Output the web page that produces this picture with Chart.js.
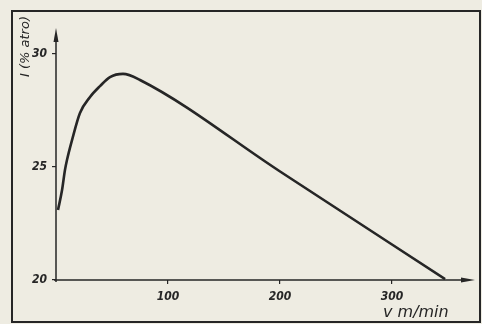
<!DOCTYPE html>
<html>
<head>
<meta charset="utf-8">
<script src="https://cdn.jsdelivr.net/npm/chart.js@4"></script>
<style>
  html, body { margin: 0; padding: 0; background: #eeece2; }
  #wrap { position: relative; width: 482px; height: 324px; }
</style>
</head>
<body>
<div id="wrap"><canvas id="myChart" width="482" height="324"></canvas></div>
<script>
// speed v (m/min) against I (% atro)
const speedValues = [1.8, 5.4, 8.0, 9.8, 14.3, 21.4, 30.4, 39.3, 48.2, 59.8, 75, 200, 347.3];
const yieldValues = [23.1, 23.98, 24.87, 25.31, 26.19, 27.39, 28.1, 28.58, 28.98, 29.12, 28.85, 24.8, 20.04];
const xTicks = [100, 200, 300];
const yTicks = [20, 25, 30];
const xTitle = 'v m/min';
const yTitle = 'I (% atro)';

const ink = '#262626';
const tickFont = { family: "'Liberation Sans Narrow', 'DejaVu Sans Condensed', 'DejaVu Sans'", size: 12, weight: 'bold', style: 'italic' };

const axesPlugin = {
  id: 'axesPlugin',
  afterDraw(chart) {
    const ctx = chart.ctx;
    const a = chart.chartArea;
    ctx.save();
    ctx.strokeStyle = ink;
    ctx.fillStyle = ink;

    // page frame
    ctx.lineWidth = 2;
    ctx.strokeRect(12, 11, 468, 311);

    // axes
    ctx.lineWidth = 1.5;
    ctx.beginPath();
    ctx.moveTo(a.left, a.bottom + 2);
    ctx.lineTo(a.left, a.top + 8);
    ctx.moveTo(a.left - 2, a.bottom);
    ctx.lineTo(a.right - 8, a.bottom);
    ctx.stroke();

    // arrow heads
    ctx.beginPath();
    ctx.moveTo(a.left, a.top);
    ctx.lineTo(a.left - 2.5, a.top + 14);
    ctx.lineTo(a.left + 2.5, a.top + 14);
    ctx.closePath();
    ctx.fill();
    ctx.beginPath();
    ctx.moveTo(a.right, a.bottom);
    ctx.lineTo(a.right - 14, a.bottom - 2.5);
    ctx.lineTo(a.right - 14, a.bottom + 2.5);
    ctx.closePath();
    ctx.fill();

    // axis titles
    ctx.font = 'italic 16px DejaVu Sans';
    ctx.textBaseline = 'middle';
    ctx.textAlign = 'left';
    ctx.fillText(xTitle, 383, 313);
    ctx.font = 'italic 13px DejaVu Sans';
    ctx.translate(26, 77);
    ctx.rotate(-Math.PI / 2);
    ctx.fillText(yTitle, 0, 0);
    ctx.restore();
  }
};

new Chart(document.getElementById('myChart'), {
  type: 'line',
  data: {
    datasets: [{
      data: speedValues.map((v, i) => ({ x: v, y: yieldValues[i] })),
      borderColor: ink,
      borderWidth: 2.6,
      pointRadius: 0,
      fill: false,
      cubicInterpolationMode: 'monotone'
    }]
  },
  options: {
    responsive: false,
    animation: false,
    devicePixelRatio: 1,
    layout: { padding: { left: 0, top: 28, right: 7, bottom: 0 } },
    plugins: { legend: { display: false }, tooltip: { enabled: false } },
    scales: {
      x: {
        type: 'linear',
        min: 0,
        max: 374,
        afterBuildTicks: s => { s.ticks = xTicks.map(v => ({ value: v })); },
        afterFit: s => { s.height = 44; },
        grid: { drawOnChartArea: false, tickLength: 4, color: ink, lineWidth: 1.2 },
        border: { display: false },
        ticks: { color: ink, font: tickFont, padding: 6, maxRotation: 0 }
      },
      y: {
        type: 'linear',
        min: 20,
        max: 31.15,
        afterBuildTicks: s => { s.ticks = yTicks.map(v => ({ value: v })); },
        afterFit: s => { s.width = 56; },
        grid: { drawOnChartArea: false, tickLength: 4, color: ink, lineWidth: 1.2 },
        border: { display: false },
        ticks: { color: ink, font: tickFont, padding: 5 }
      }
    }
  },
  plugins: [axesPlugin]
});
</script>
</body>
</html>
